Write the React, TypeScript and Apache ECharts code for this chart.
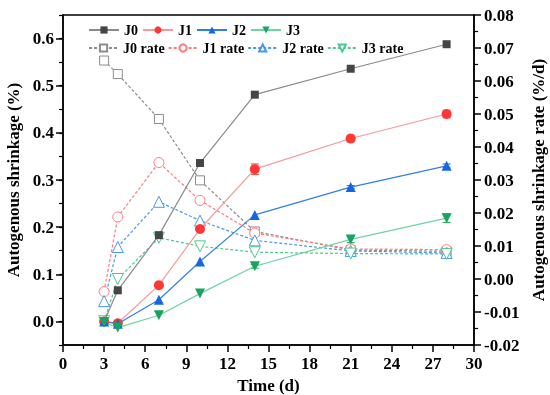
import React, { useEffect, useRef } from "react";
import * as echarts from "echarts";

const times = [3, 4, 7, 10, 14, 21, 28];
const j0 = [0, 0.066, 0.183, 0.336, 0.481, 0.536, 0.588];
const j1 = [0, -0.004, 0.077, 0.196, 0.323, 0.388, 0.44];
const j2 = [0, -0.005, 0.046, 0.127, 0.226, 0.285, 0.33];
const j3 = [-0.002, -0.013, 0.013, 0.059, 0.117, 0.174, 0.219];
const j0Err = [0, 0, 0, 0, 0, 0, 0];
const j1Err = [0, 0, 0, 0, 0.011, 0.007, 0.008];
const j2Err = [0, 0, 0, 0, 0, 0.003, 0.004];
const j3Err = [0, 0, 0, 0, 0.004, 0.007, 0.009];
const j0Rate = [0.0662, 0.0621, 0.0485, 0.0299, 0.0144, 0.0088, 0.0084];
const j1Rate = [-0.0038, 0.0188, 0.0353, 0.0238, 0.0139, 0.0091, 0.0089];
const j2Rate = [-0.0067, 0.0097, 0.0234, 0.0177, 0.0117, 0.0085, 0.0079];
const j3Rate = [-0.0128, 0.0, 0.0125, 0.0099, 0.0081, 0.0077, 0.0076];
const leftTicks = [0, 0.1, 0.2, 0.3, 0.4, 0.5, 0.6];

const FONT = "Liberation Serif";

export default function App() {
  const ref = useRef<HTMLDivElement>(null);
  useEffect(() => {
    if (!ref.current) return;
    const chart = echarts.init(ref.current, undefined, { renderer: "svg" });
    const pair = (vals: number[]) => times.map((t, i) => [t, vals[i]]);
    const errData = (vals: number[], errs: number[]) =>
      times.map((t, i) => [t, vals[i] - errs[i], vals[i] + errs[i]]).filter((d, i) => errs[i] > 0);
    const errSeries = (vals: number[], errs: number[], color: string) => ({
      type: "custom",
      yAxisIndex: 0,
      silent: true,
      z: 3,
      data: errData(vals, errs),
      renderItem: (params: any, api: any) => {
        const x = api.value(0);
        const lo = api.coord([x, api.value(1)]);
        const hi = api.coord([x, api.value(2)]);
        const w = 4;
        return {
          type: "group",
          children: [
            { type: "line", shape: { x1: lo[0], y1: lo[1], x2: hi[0], y2: hi[1] }, style: { stroke: color, lineWidth: 1 } },
            { type: "line", shape: { x1: lo[0] - w, y1: lo[1], x2: lo[0] + w, y2: lo[1] }, style: { stroke: color, lineWidth: 1 } },
            { type: "line", shape: { x1: hi[0] - w, y1: hi[1], x2: hi[0] + w, y2: hi[1] }, style: { stroke: color, lineWidth: 1 } },
          ],
        };
      },
    });
    const main = (name: string, vals: number[], symbol: string, size: number, mColor: string, lColor: string) => ({
      name,
      type: "line",
      yAxisIndex: 0,
      data: pair(vals),
      symbol,
      symbolSize: size,
      showAllSymbol: true,
      z: 5,
      itemStyle: { color: mColor },
      lineStyle: { color: lColor, width: 1.2 },
    });
    const rate = (name: string, vals: number[], symbol: string, size: number, color: string) => ({
      name,
      type: "line",
      yAxisIndex: 1,
      data: pair(vals),
      symbol,
      symbolSize: size,
      showAllSymbol: true,
      z: 4,
      itemStyle: { color: "#ffffff", borderColor: color, borderWidth: 1 },
      lineStyle: { color, width: 1.2, type: [3, 2] },
    });
    const textStyle = { fontFamily: FONT, fontWeight: "bold", fontSize: 14, color: "#000" };
    chart.setOption({
      animation: false,
      textStyle: { fontFamily: FONT },
      grid: {
        left: 63,
        right: 76,
        top: 15,
        bottom: 50,
        containLabel: false,
        outerBoundsMode: "none",
        show: true,
        borderColor: "#000",
        borderWidth: 1.5,
        backgroundColor: "transparent",
      },
      legend: [
        {
          data: ["J0", "J1", "J2", "J3"],
          left: 83,
          top: 18,
          itemGap: 4,
          itemWidth: 30,
          itemHeight: 9,
          textStyle,
        },
        {
          data: ["J0 rate", "J1 rate", "J2 rate", "J3 rate"],
          left: 83,
          top: 36,
          itemGap: 3,
          itemWidth: 29,
          itemHeight: 9,
          textStyle,
        },
      ],
      xAxis: {
        type: "value",
        min: 0,
        max: 30,
        interval: 3,
        name: "Time (d)",
        nameLocation: "middle",
        nameGap: 28,
        nameTextStyle: { fontFamily: FONT, fontWeight: "bold", fontSize: 17, color: "#000" },
        axisLine: { onZero: false, lineStyle: { color: "#000", width: 1.5 } },
        axisTick: { inside: false, length: 7, lineStyle: { color: "#000", width: 1.5 } },
        minorTick: { show: true, splitNumber: 2, length: 4, lineStyle: { color: "#000", width: 1.2 } },
        axisLabel: { fontFamily: FONT, fontWeight: "bold", fontSize: 17, color: "#000", margin: 10 },
        splitLine: { show: false },
      },
      yAxis: [
        {
          type: "value",
          position: "left",
          min: -0.05,
          max: 0.65,
          interval: 0.05,
          name: "Autogenous shrinkage (%)",
          nameLocation: "middle",
          nameGap: 35,
          nameTextStyle: { fontFamily: FONT, fontWeight: "bold", fontSize: 17, color: "#000" },
          axisLine: { show: true, onZero: false, lineStyle: { color: "#000", width: 1.5 } },
          axisTick: { show: true, length: 7, customValues: leftTicks, lineStyle: { color: "#000", width: 1.5 } },
          axisLabel: {
            fontFamily: FONT,
            fontWeight: "bold",
            fontSize: 17,
            color: "#000",
            margin: 9,
            customValues: leftTicks,
            formatter: (v: number) => (Math.abs(Math.round(v * 100)) % 10 === 0 ? v.toFixed(1) : ""),
          },
          splitLine: { show: false },
        },
        {
          type: "value",
          position: "right",
          min: -0.02,
          max: 0.08,
          interval: 0.01,
          name: "Autogenous shrinkage rate (%/d)",
          nameLocation: "middle",
          nameGap: 51,
          nameRotate: 90,
          nameTextStyle: { fontFamily: FONT, fontWeight: "bold", fontSize: 17, color: "#000" },
          axisLine: { show: true, onZero: false, lineStyle: { color: "#000", width: 1.5 } },
          axisTick: { show: true, length: 7, lineStyle: { color: "#000", width: 1.5 } },
          minorTick: { show: true, splitNumber: 2, length: 4, lineStyle: { color: "#000", width: 1.2 } },
          axisLabel: {
            fontFamily: FONT,
            fontWeight: "bold",
            fontSize: 17,
            color: "#000",
            margin: 10,
            formatter: (v: number) => v.toFixed(2),
          },
          splitLine: { show: false },
        },
        {
          type: "value",
          position: "left",
          min: -0.05,
          max: 0.65,
          interval: 0.05,
          axisLine: { show: false },
          axisTick: { show: true, length: 4, lineStyle: { color: "#000", width: 1.2 } },
          axisLabel: { show: false },
          splitLine: { show: false },
        },
      ],
      series: [
        main("J0", j0, "rect", 8, "#454545", "#8a8a8a"),
        main("J1", j1, "circle", 10, "#ff3636", "#f59a9a"),
        main("J2", j2, "triangle", 10, "#1566e0", "#2f7fe8"),
        main("J3", j3, "path://M0,0 L10,0 L5,9 Z", 10, "#17a45e", "#6fd3a3"),
        rate("J0 rate", j0Rate, "rect", 9, "#8c8c8c"),
        rate("J1 rate", j1Rate, "circle", 10, "#ff7a7a"),
        rate("J2 rate", j2Rate, "triangle", 11, "#4797ee"),
        rate("J3 rate", j3Rate, "path://M0,0 L10,0 L5,9 Z", 11, "#4cc98e"),
        errSeries(j0, j0Err, "#454545"),
        errSeries(j1, j1Err, "#ff3636"),
        errSeries(j2, j2Err, "#1566e0"),
        errSeries(j3, j3Err, "#17a45e"),
      ],
    });
    return () => chart.dispose();
  }, []);
  return <div ref={ref} style={{ position: "fixed", left: 0, top: 0, width: 550, height: 395 }} />;
}
